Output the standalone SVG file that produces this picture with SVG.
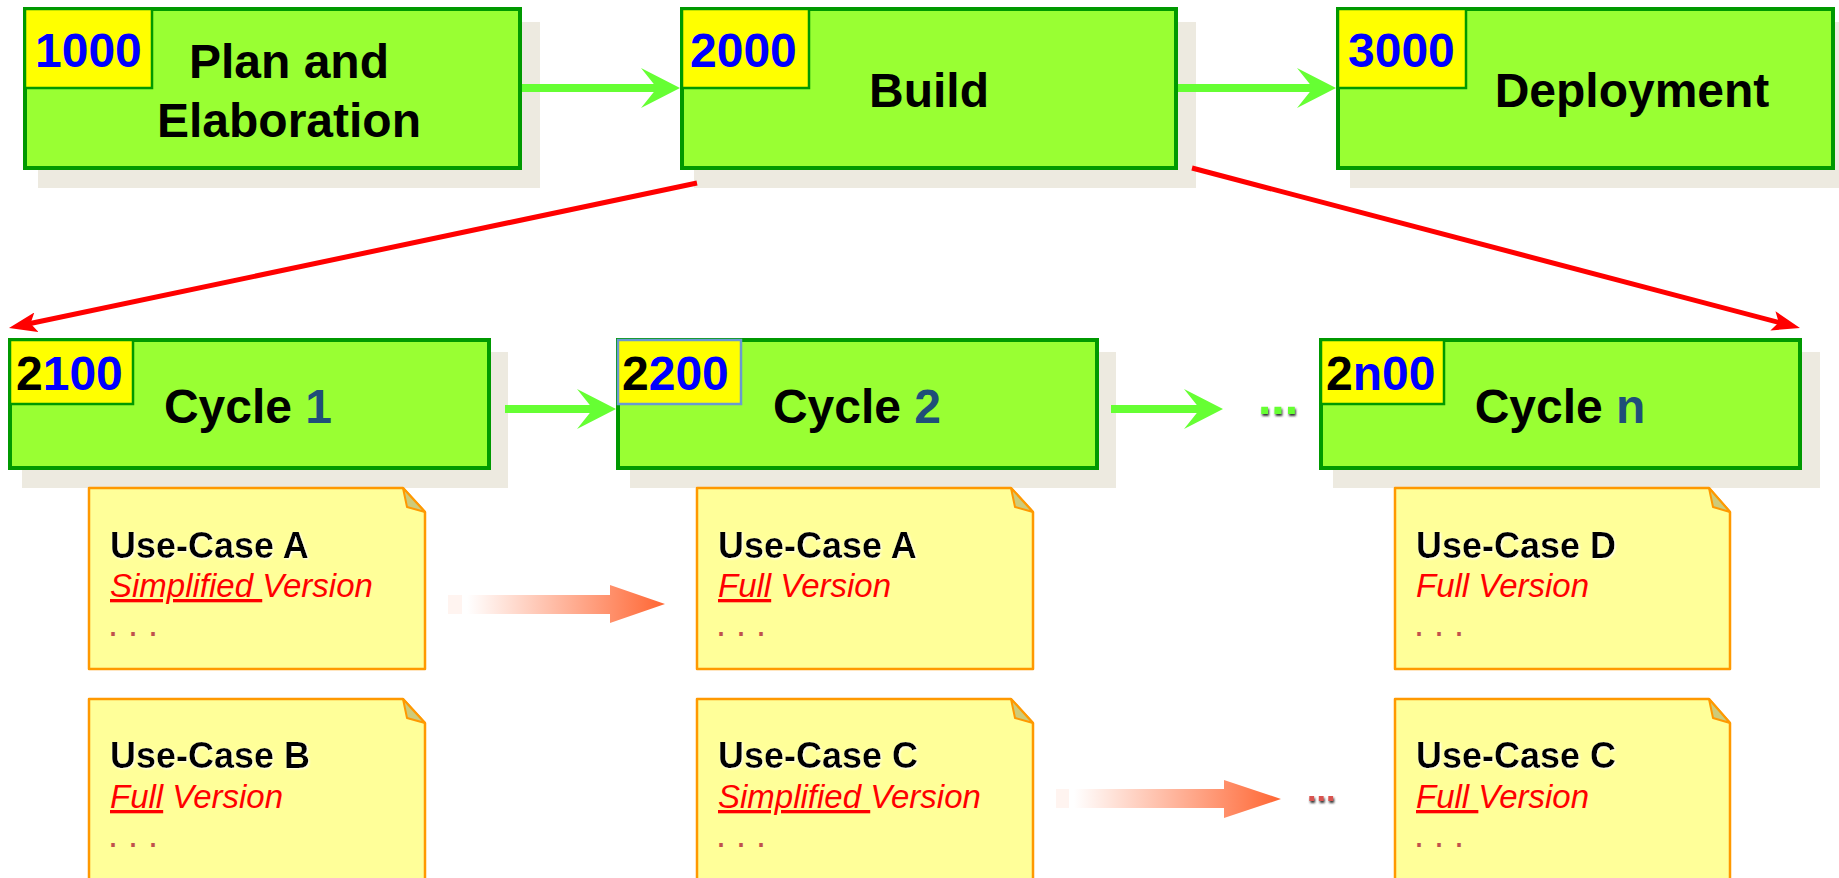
<svg xmlns="http://www.w3.org/2000/svg" width="1839" height="878" viewBox="0 0 1839 878">
<defs>
<style>
.shadow{fill:#EDEAE0}
.box{fill:#99FF33;stroke:#009900;stroke-width:4}
.lbl{fill:#FFFF00;stroke:#009900;stroke-width:2.5}
.num{font-family:"Liberation Sans",Arial,sans-serif;font-weight:bold;font-size:48px;fill:#0000FF}
.blk{fill:#000000}
.title{font-family:"Liberation Sans",Arial,sans-serif;font-weight:bold;font-size:48px;fill:#000000;text-anchor:middle}
.cn{fill:#1F4E79}
.note{fill:#FFFF99;stroke:#FF9900;stroke-width:2.5;stroke-linejoin:round}
.fold{fill:#CDCB7A;stroke:#FF9900;stroke-width:2;stroke-linejoin:round}
.uc{font-family:"Liberation Sans",Arial,sans-serif;font-weight:bold;font-size:36px;fill:#000000;filter:url(#glow)}
.ver{font-family:"Liberation Sans",Arial,sans-serif;font-style:italic;font-size:33px;fill:#FF0000}
.dots{font-family:"Liberation Sans",Arial,sans-serif;font-size:36px;fill:#C0504D}
.green{stroke:#66FF33;stroke-width:8;fill:none}
.red{stroke:#FF0000;stroke-width:5;fill:none}
</style>
<marker id="gHead" markerUnits="userSpaceOnUse" viewBox="0 0 39 40" refX="17" refY="20" markerWidth="39" markerHeight="40" orient="auto">
<path d="M0,0 L39,20 L0,40 L16,20 Z" fill="#66FF33"/>
</marker>
<marker id="rHead" markerUnits="userSpaceOnUse" viewBox="0 0 28 20" refX="10" refY="10" markerWidth="28" markerHeight="20" orient="auto">
<path d="M0,0 L28,10 L0,20 L6,10 Z" fill="#FF0000"/>
</marker>
<linearGradient id="fade" x1="0" y1="0" x2="1" y2="0">
<stop offset="0" stop-color="#FFFFFF"/>
<stop offset="1" stop-color="#FF6633"/>
</linearGradient>
<filter id="glow" x="-10%" y="-20%" width="120%" height="140%">
<feDropShadow dx="1" dy="1" stdDeviation="1" flood-color="#FFFFFF"/>
</filter>
<filter id="dsh" x="-20%" y="-50%" width="140%" height="200%">
<feDropShadow dx="1" dy="2" stdDeviation="1" flood-color="#333333"/>
</filter>
</defs>

<g id="n1000">
<rect class="shadow" x="38" y="22" width="502" height="166"/>
<rect class="box" x="25" y="9" width="495" height="159"/>
<rect class="lbl" x="25" y="9" width="127" height="79"/>
<text class="num" x="35" y="67">1000</text>
<text class="title" x="289" y="78">Plan and</text>
<text class="title" x="289" y="137">Elaboration</text>
</g>

<g id="n2000">
<rect class="shadow" x="694" y="22" width="502" height="166"/>
<rect class="box" x="682" y="9" width="494" height="159"/>
<rect class="lbl" x="682" y="9" width="127" height="79"/>
<text class="num" x="690" y="67">2000</text>
<text class="title" x="929" y="107">Build</text>
</g>

<g id="n3000">
<rect class="shadow" x="1350" y="22" width="489" height="166"/>
<rect class="box" x="1338" y="9" width="495" height="159"/>
<rect class="lbl" x="1338" y="9" width="128" height="79"/>
<text class="num" x="1348" y="67">3000</text>
<text class="title" x="1632" y="107">Deployment</text>
</g>

<g id="n2100">
<rect class="shadow" x="22" y="352" width="486" height="136"/>
<rect class="box" x="10" y="340" width="479" height="128"/>
<rect class="lbl" x="10" y="340" width="123" height="64"/>
<text class="num" x="16" y="390"><tspan class="blk">2</tspan>100</text>
<text class="title" x="248" y="423">Cycle <tspan class="cn">1</tspan></text>
</g>

<g id="n2200">
<rect class="shadow" x="630" y="352" width="486" height="136"/>
<rect class="box" x="618" y="340" width="479" height="128"/>
<rect class="lbl" x="618" y="340" width="123" height="64" style="stroke:#6A9AD0"/>
<text class="num" x="622" y="390"><tspan class="blk">2</tspan>200</text>
<text class="title" x="857" y="423">Cycle <tspan class="cn">2</tspan></text>
</g>

<g id="ellipsis-cycles">
<text x="1258" y="414" style="font-family:'Liberation Sans',Arial,sans-serif;font-weight:bold;font-size:48px;fill:#66FF33" filter="url(#dsh)">...</text>
</g>

<g id="n2n00">
<rect class="shadow" x="1333" y="352" width="487" height="136"/>
<rect class="box" x="1321" y="340" width="479" height="128"/>
<rect class="lbl" x="1321" y="340" width="123" height="64"/>
<text class="num" x="1326" y="390"><tspan class="blk">2</tspan>n00</text>
<text class="title" x="1560" y="423">Cycle <tspan class="cn">n</tspan></text>
</g>

<g id="note-c1-a">
<path class="note" d="M89,488 H403 L425,512 V669 H89 Z"/>
<path class="fold" d="M403,488 L407,507 L425,512 Z"/>
<text class="uc" x="110" y="558">Use-Case A</text>
<text class="ver" x="110" y="597"><tspan text-decoration="underline">Simplified </tspan>Version</text>
<text class="dots" x="108" y="636">. . .</text>
</g>

<g id="note-c1-b">
<path class="note" d="M89,699 H403 L425,723 V880 H89 Z"/>
<path class="fold" d="M403,699 L407,718 L425,723 Z"/>
<text class="uc" x="110" y="768">Use-Case B</text>
<text class="ver" x="110" y="808"><tspan text-decoration="underline">Full</tspan> Version</text>
<text class="dots" x="108" y="847">. . .</text>
</g>

<g id="note-c2-a">
<path class="note" d="M697,488 H1011 L1033,512 V669 H697 Z"/>
<path class="fold" d="M1011,488 L1015,507 L1033,512 Z"/>
<text class="uc" x="718" y="558">Use-Case A</text>
<text class="ver" x="718" y="597"><tspan text-decoration="underline">Full</tspan> Version</text>
<text class="dots" x="716" y="636">. . .</text>
</g>

<g id="note-c2-c">
<path class="note" d="M697,699 H1011 L1033,723 V880 H697 Z"/>
<path class="fold" d="M1011,699 L1015,718 L1033,723 Z"/>
<text class="uc" x="718" y="768">Use-Case C</text>
<text class="ver" x="718" y="808"><tspan text-decoration="underline">Simplified </tspan>Version</text>
<text class="dots" x="716" y="847">. . .</text>
</g>

<g id="ellipsis-notes">
<text x="1307" y="801" style="font-family:'Liberation Sans',Arial,sans-serif;font-weight:bold;font-size:34px;fill:#D9534F" filter="url(#dsh)">...</text>
</g>

<g id="note-cn-d">
<path class="note" d="M1395,488 H1709 L1730,512 V669 H1395 Z"/>
<path class="fold" d="M1709,488 L1713,507 L1730,512 Z"/>
<text class="uc" x="1416" y="558">Use-Case D</text>
<text class="ver" x="1416" y="597">Full Version</text>
<text class="dots" x="1414" y="636">. . .</text>
</g>

<g id="note-cn-c">
<path class="note" d="M1395,699 H1709 L1730,723 V880 H1395 Z"/>
<path class="fold" d="M1709,699 L1713,718 L1730,723 Z"/>
<text class="uc" x="1416" y="768">Use-Case C</text>
<text class="ver" x="1416" y="808"><tspan text-decoration="underline">Full </tspan>Version</text>
<text class="dots" x="1414" y="847">. . .</text>
</g>

<g id="connectors">
<line class="green" x1="522" y1="88" x2="658" y2="88" marker-end="url(#gHead)"/>
<line class="green" x1="1178" y1="88" x2="1314" y2="88" marker-end="url(#gHead)"/>
<line class="green" x1="505" y1="409" x2="594" y2="409" marker-end="url(#gHead)"/>
<line class="green" x1="1111" y1="409" x2="1201" y2="409" marker-end="url(#gHead)"/>
<line class="red" x1="697" y1="183" x2="26.6" y2="324.3" marker-end="url(#rHead)"/>
<line class="red" x1="1192" y1="168" x2="1782.6" y2="323.4" marker-end="url(#rHead)"/>
<g id="fade-arrow-1">
<rect x="448" y="595" width="14" height="19" fill="#FFF4F0"/>
<path d="M467,595 H610 V585 L665,604 L610,623 V614 H467 Z" fill="url(#fade)"/>
</g>
<g id="fade-arrow-2">
<rect x="1056" y="789" width="13" height="19" fill="#FFF4F0"/>
<path d="M1074,789 H1224 V780 L1281,799 L1224,818 V808 H1074 Z" fill="url(#fade)"/>
</g>
</g>
</svg>
